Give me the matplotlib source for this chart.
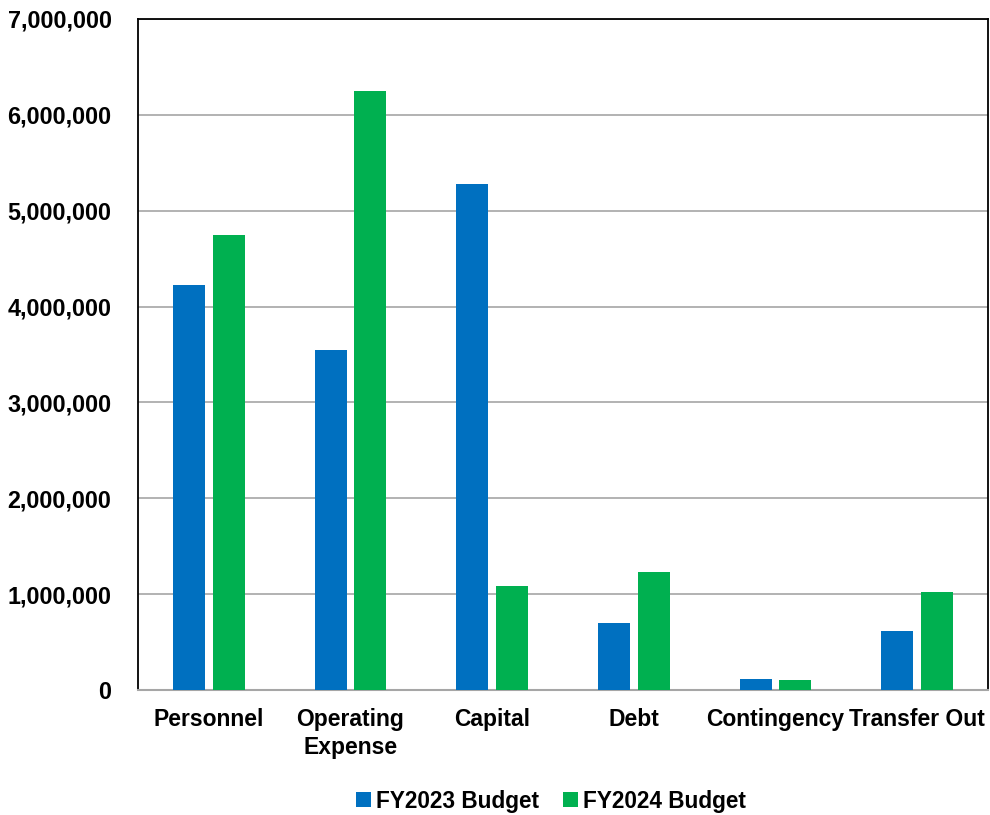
import numpy as np
import matplotlib.pyplot as plt
from matplotlib.ticker import FuncFormatter

categories = ['Personnel', 'Operating\nExpense', 'Capital', 'Debt', 'Contingency', 'Transfer Out']
fy2023 = [4230000, 3545000, 5280000, 698000, 115000, 617000]
fy2024 = [4745000, 6250000, 1085000, 1230000, 105000, 1025000]

plt.rcParams['font.family'] = ['Liberation Sans', 'DejaVu Sans']
plt.rcParams['font.weight'] = 'bold'

fig = plt.figure(figsize=(9.9, 8.15), dpi=100)
ax = fig.add_axes([0.1394, 0.1534, 0.8586, 0.8233])

x = np.arange(len(categories))
w = 0.225
gap = 0.056
ax.bar(x - (w + gap) / 2, fy2023, w, color='#0070C0', label='FY2023 Budget', zorder=3)
ax.bar(x + (w + gap) / 2, fy2024, w, color='#00B050', label='FY2024 Budget', zorder=3)

ax.set_xlim(-0.5, len(categories) - 0.5)
ax.set_ylim(0, 7000000)
ax.set_yticks(np.arange(0, 7000001, 1000000))
ax.yaxis.set_major_formatter(FuncFormatter(lambda v, p: f'{int(v):,}'))
ax.set_xticks(x)
ax.set_xticklabels(categories, fontsize=16.5, fontweight='bold', linespacing=1.3)
ax.tick_params(axis='y', labelsize=16.8, length=0, pad=19)
ax.tick_params(axis='x', length=0, pad=13)
ax.grid(axis='y', color='#A6A6A6', linewidth=1.2, zorder=0)

for s in ['top', 'left', 'right']:
    ax.spines[s].set_color('black')
    ax.spines[s].set_linewidth(1.3)
ax.spines['bottom'].set_color('#A6A6A6')
ax.spines['bottom'].set_linewidth(1.5)

ax.legend(loc='center', bbox_to_anchor=(0.486, -0.166), ncol=2, frameon=False,
          fontsize=16.3, handlelength=0.65, handleheight=0.65, handletextpad=0.25,
          columnspacing=1.05)

fig.savefig('out.png', dpi=100)
